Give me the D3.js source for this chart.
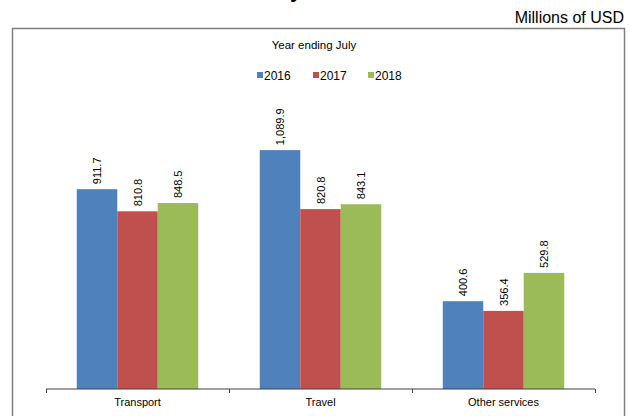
<!DOCTYPE html>
<html>
<head>
<meta charset="utf-8">
<script src="https://cdn.jsdelivr.net/npm/d3@7"></script>
<style>
  body { margin: 0; background: #fff; }
  svg { display: block; font-family: "Liberation Sans", Arial, sans-serif; }
</style>
</head>
<body>
<svg width="631" height="416"></svg>
<script>
const categories = ['Transport', 'Travel', 'Other services'];
const years = ['2016', '2017', '2018'];
const values2016 = [911.7, 1089.9, 400.6];
const values2017 = [810.8, 820.8, 356.4];
const values2018 = [848.5, 843.1, 529.8];
const colors = ['#4F81BD', '#C0504D', '#9BBB59'];

const seriesValues = [values2016, values2017, values2018];

const svg = d3.select('svg');

// title, mostly cut off above the picture (as in the reference)
svg.append('text')
  .attr('x', 296)
  .attr('y', -3)
  .attr('text-anchor', 'middle')
  .attr('font-size', 22)
  .attr('font-weight', 'bold')
  .text('y');

svg.append('text')
  .attr('x', 624)
  .attr('y', 23)
  .attr('text-anchor', 'end')
  .attr('font-size', 16)
  .attr('fill', '#000')
  .text('Millions of USD');

// frame
svg.append('rect')
  .attr('x', 12.5)
  .attr('y', 28.5)
  .attr('width', 612)
  .attr('height', 400)
  .attr('fill', 'none')
  .attr('stroke', '#7f7f7f')
  .attr('stroke-width', 1.5);

svg.append('text')
  .attr('x', 314)
  .attr('y', 49)
  .attr('text-anchor', 'middle')
  .attr('font-size', 11.5)
  .text('Year ending July');

// legend
const legendX = [257, 313, 368];
const legend = svg.append('g');
years.forEach((yr, i) => {
  legend.append('rect')
    .attr('x', legendX[i])
    .attr('y', 72)
    .attr('width', 6)
    .attr('height', 6)
    .attr('fill', colors[i]);
  legend.append('text')
    .attr('x', legendX[i] + 7)
    .attr('y', 79.5)
    .attr('font-size', 12)
    .text(yr);
});

const x0 = d3.scaleBand().domain(categories).range([46, 595]).paddingInner(0).paddingOuter(0);
const x1 = d3.scaleBand().domain(years).range([0, x0.bandwidth()]).paddingInner(0).paddingOuter(0.76);
const y = d3.scaleLinear().domain([0, 1200]).range([389, 126]);

const fmt = d3.format(',.1f');

const g = svg.append('g');
categories.forEach((cat, ci) => {
  years.forEach((yr, si) => {
    const v = seriesValues[si][ci];
    const bx = x0(cat) + x1(yr);
    g.append('rect')
      .attr('x', bx)
      .attr('y', y(v))
      .attr('width', x1.bandwidth())
      .attr('height', y(0) - y(v))
      .attr('fill', colors[si]);
    const cx = bx + x1.bandwidth() / 2;
    const ty = y(v) - 5;
    g.append('text')
      .attr('transform', `translate(${cx + 4}, ${ty}) rotate(-90)`)
      .attr('font-size', 11)
      .attr('text-anchor', 'start')
      .text(fmt(v));
  });
});

// x axis
const axis = svg.append('g')
  .attr('transform', `translate(0, ${y(0)})`)
  .call(d3.axisBottom(x0).tickSize(0).tickPadding(9));
axis.select('.domain').attr('stroke', '#404040').attr('d', 'M46,0H595');
axis.selectAll('text').attr('font-size', 11).attr('font-family', '"Liberation Sans", Arial, sans-serif').attr('fill', '#000');

const boundaries = [46, 229, 412, 595];
axis.selectAll('.bound')
  .data(boundaries)
  .join('line')
  .attr('class', 'bound')
  .attr('x1', d => d + 0.5)
  .attr('x2', d => d + 0.5)
  .attr('y1', 0)
  .attr('y2', 4)
  .attr('stroke', '#404040');
</script>
</body>
</html>
